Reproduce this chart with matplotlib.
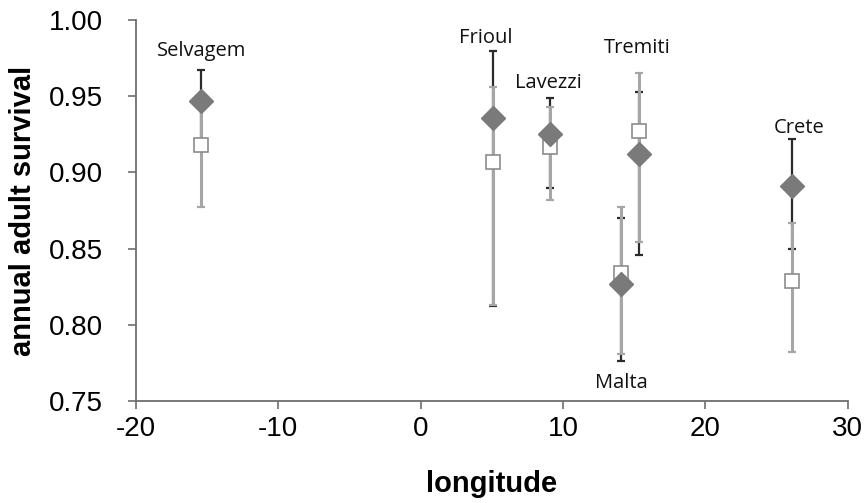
import numpy as np
import matplotlib
matplotlib.use('Agg')
import matplotlib.pyplot as plt

plt.rcParams['axes.unicode_minus'] = False

# colonies, longitude and survival estimates
islands     = ['Selvagem', 'Frioul', 'Lavezzi', 'Tremiti', 'Malta', 'Crete']
longitude   = [-15.4, 5.1, 9.1, 15.3, 14.1, 26.1]

# diamond series (dark) : estimate, lower, upper
surv_a      = [0.947, 0.936, 0.925, 0.912, 0.827, 0.891]
low_a       = [0.918, 0.812, 0.890, 0.846, 0.776, 0.850]
up_a        = [0.967, 0.980, 0.949, 0.953, 0.870, 0.922]

# square series (light) : estimate, lower, upper
surv_b      = [0.918, 0.907, 0.917, 0.927, 0.834, 0.829]
low_b       = [0.877, 0.813, 0.882, 0.854, 0.781, 0.782]
up_b        = [0.945, 0.956, 0.943, 0.965, 0.877, 0.867]

# label positions (longitude, survival)
label_x     = [-15.4, 4.6, 9.0, 15.2, 14.1, 26.6]
label_y     = [0.980, 0.988, 0.959, 0.982, 0.762, 0.929]

x_a = np.array(longitude)
x_b = np.array(longitude)
err_a = [np.array(surv_a) - np.array(low_a), np.array(up_a) - np.array(surv_a)]
err_b = [np.array(surv_b) - np.array(low_b), np.array(up_b) - np.array(surv_b)]

fig = plt.figure(figsize=(8.66, 5.03), dpi=100)
ax  = fig.add_axes([0.157, 0.203, 0.822, 0.757])

# error bars, light ones drawn over the dark ones
ax.errorbar(x_a, surv_a, yerr=err_a, fmt='none', ecolor='#2b2b2b',
            elinewidth=1.6, capsize=3, capthick=1.6, zorder=2)
ax.errorbar(x_b, surv_b, yerr=err_b, fmt='none', ecolor='#a6a6a6',
            elinewidth=2.2, capsize=3, capthick=1.6, zorder=3)

ax.plot(x_b, surv_b, linestyle='none', marker='s', markersize=9.5,
        markerfacecolor='white', markeredgecolor='#8c8c8c',
        markeredgewidth=1.2, zorder=4)
ax.plot(x_a, surv_a, linestyle='none', marker='D', markersize=12.5,
        markerfacecolor='#7a7a7a', markeredgecolor='#7a7a7a', zorder=5)

for name, lx, ly in zip(islands, label_x, label_y):
    ax.text(lx, ly, name, ha='center', va='center', fontsize=14.5,
            family='Open Sans', color='#111111')

ax.set_xlim(-20, 30)
ax.set_ylim(0.75, 1.00)
ax.set_xticks(np.arange(-20, 31, 10))
ax.set_yticks(np.arange(0.75, 1.001, 0.05))
ax.set_yticklabels(['%.2f' % v for v in np.arange(0.75, 1.001, 0.05)])

for side in ['top', 'right']:
    ax.spines[side].set_visible(False)
for side in ['left', 'bottom']:
    ax.spines[side].set_color('#6e6e6e')
    ax.spines[side].set_linewidth(1.3)

ax.tick_params(axis='both', direction='out', length=6, width=1.2,
               color='#6e6e6e', labelsize=20)
ax.tick_params(axis='y', pad=18)
ax.tick_params(axis='x', pad=5)
for lab in ax.get_xticklabels() + ax.get_yticklabels():
    lab.set_family('Liberation Sans')

ax.set_xlabel('longitude', fontsize=21, fontweight='bold',
              family='Liberation Sans', labelpad=20)
ax.set_ylabel('annual adult survival', fontsize=21, fontweight='bold',
              family='Liberation Sans', labelpad=8)

plt.savefig('out.png', dpi=100)
